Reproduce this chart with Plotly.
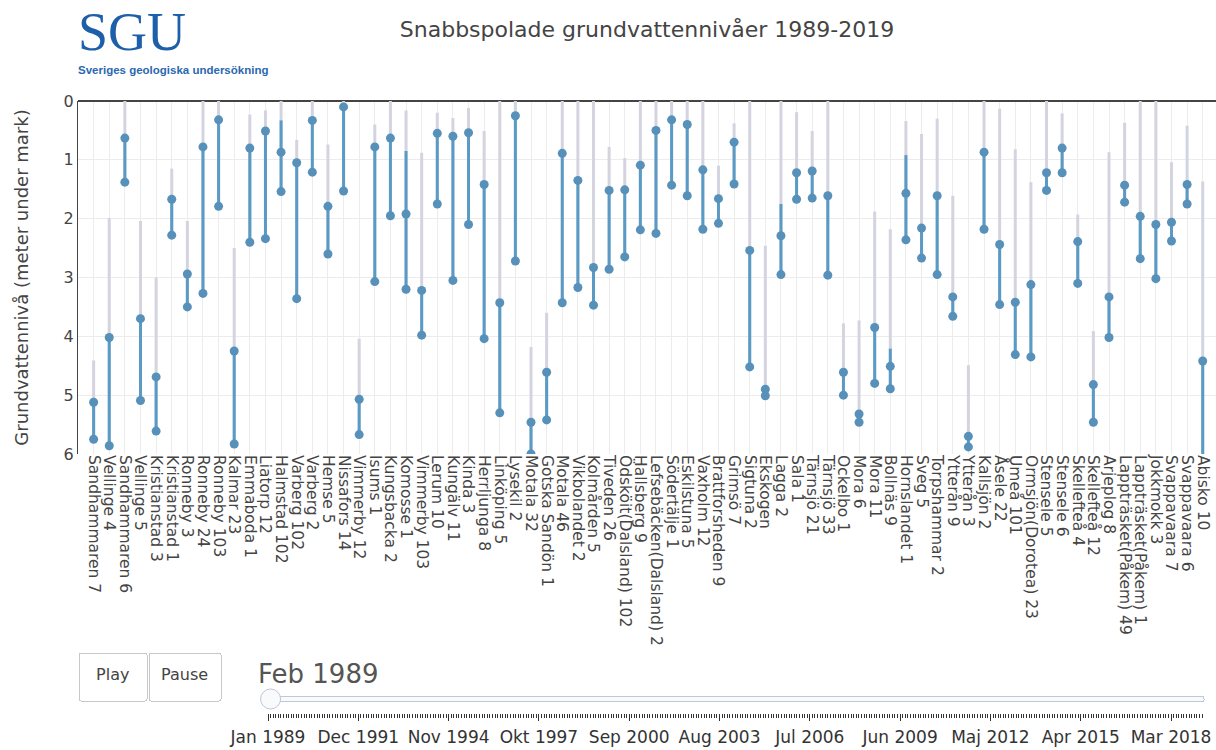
import plotly.graph_objects as go

# Observation wells, west/south to north
stations = [
    "Sandhammaren 7", "Vellinge 4", "Sandhammaren 6", "Vellinge 5", "Kristianstad 3",
    "Kristianstad 1", "Ronneby 3", "Ronneby 24", "Ronneby 103", "Kalmar 23",
    "Emmaboda 1", "Liatorp 12", "Halmstad 102", "Varberg 102", "Varberg 2",
    "Hemse 5", "Nissafors 14", "Vimmerby 12", "Isums 1", "Kungsbacka 2",
    "Komosse 1", "Vimmerby 103", "Lerum 10", "Kungälv 11", "Kinda 3",
    "Herrljunga 8", "Linköping 5", "Lysekil 2", "Motala 32", "Gotska Sandön 1",
    "Motala 46", "Vikbolandet 2", "Kolmården 5", "Tiveden 26", "Ödsköit(Dalsland) 102",
    "Hallsberg 9", "Lefsebäcken(Dalsland) 2", "Södertälje 1", "Eskilstuna 5", "Vaxholm 12",
    "Brattforsheden 9", "Grimsö 7", "Sigtuna 2", "Ekskogen", "Lagga 2",
    "Sala 1", "Tärnsjö 21", "Tärnsjö 33", "Ockelbo 1", "Mora 6",
    "Mora 11", "Bollnäs 9", "Hornslandet 1", "Sveg 5", "Torpshammar 2",
    "Ytterån 9", "Ytterån 3", "Kallsjön 2", "Åsele 22", "Umeå 101",
    "Ormsjön(Dorotea) 23", "Stensele 5", "Stensele 6", "Skellefteå 4", "Skellefteå 12",
    "Arjeplog 8", "Lappträsket(Påkem) 49", "Lappträsket(Påkem) 1", "Jokkmokk 3", "Svappavaara 7",
    "Svappavaara 6", "Abisko 10",
]

# Highest level ever recorded (m below ground)
hist_min = [
    4.41, 1.99, 0.00, 2.04, 3.00, 1.15, 2.04, 0.00, 0.00, 2.50,
    0.23, 0.16, 0.00, 0.66, 0.00, 0.74, 0.00, 4.04, 0.40, 0.00,
    0.16, 0.88, 0.20, 0.29, 0.12, 0.51, 0.00, 0.00, 4.18, 3.60,
    0.00, 0.00, 0.00, 0.78, 0.97, 0.00, 0.00, 0.00, 0.00, 0.00,
    1.10, 0.38, 0.00, 2.46, 0.00, 0.19, 0.51, 0.00, 3.78, 3.73,
    1.88, 2.18, 0.34, 0.56, 0.30, 1.61, 4.49, 0.00, 0.13, 0.82,
    1.38, 0.00, 0.21, 1.93, 3.91, 0.87, 0.37, 0.00, 0.00, 1.04,
    0.42, 1.37,
]

# Current-period levels, upper and lower marker (m below ground)
level_upper = [
    5.12, 4.02, 0.63, 3.70, 4.69, 1.67, 2.94, 0.78, 0.32, 4.25,
    0.80, 0.51, 0.87, 1.05, 0.33, 1.79, 0.10, 5.07, 0.78, 0.63,
    1.92, 3.22, 0.55, 0.60, 0.54, 1.42, 3.43, 0.25, 5.46, 4.61,
    0.89, 1.35, 2.83, 1.52, 1.51, 1.09, 0.50, 0.32, 0.40, 1.17,
    1.66, 0.70, 2.54, 4.90, 2.29, 1.22, 1.19, 1.61, 4.61, 5.32,
    3.85, 4.51, 1.57, 2.16, 1.61, 3.33, 5.70, 0.87, 2.44, 3.42,
    3.12, 1.22, 0.80, 2.39, 4.82, 3.33, 1.43, 1.96, 2.10, 2.06,
    1.42, 4.42,
]
level_lower = [
    5.75, 5.86, 1.38, 5.09, 5.61, 2.28, 3.50, 3.27, 1.79, 5.83,
    2.40, 2.34, 1.54, 3.36, 1.21, 2.60, 1.53, 5.67, 3.07, 1.95,
    3.20, 3.98, 1.75, 3.05, 2.10, 4.04, 5.30, 2.72, 6.00, 5.42,
    3.43, 3.17, 3.47, 2.86, 2.65, 2.19, 2.25, 1.43, 1.61, 2.18,
    2.08, 1.41, 4.52, 5.01, 2.95, 1.67, 1.65, 2.96, 5.00, 5.46,
    4.80, 4.89, 2.36, 2.67, 2.95, 3.66, 5.88, 2.18, 3.46, 4.31,
    4.35, 1.52, 1.22, 3.10, 5.46, 4.02, 1.72, 2.68, 3.02, 2.38,
    1.75, 6.40,
]

# Span of the period line (m below ground)
line_upper = [
    5.12, 4.02, 0.63, 3.70, 4.69, 1.67, 2.94, 0.78, 0.32, 4.25,
    0.80, 0.51, 0.33, 1.05, 0.33, 1.79, 0.10, 5.07, 0.78, 0.63,
    0.85, 3.22, 0.55, 0.60, 0.54, 1.42, 3.43, 0.25, 5.46, 4.61,
    0.89, 1.35, 2.83, 1.52, 1.51, 1.09, 0.50, 0.32, 0.40, 1.17,
    1.66, 0.70, 2.54, 4.90, 1.75, 1.22, 1.19, 1.61, 4.61, 5.32,
    3.85, 4.21, 0.92, 2.16, 1.61, 3.33, 5.70, 0.87, 2.44, 3.42,
    3.12, 1.22, 0.80, 2.39, 4.82, 3.33, 1.43, 1.96, 2.10, 2.06,
    1.42, 4.42,
]
line_lower = level_lower

MONTHS_SV = ["Jan", "Feb", "Mar", "Apr", "Maj", "Jun",
             "Jul", "Aug", "Sep", "Okt", "Nov", "Dec"]
first_year, last_year, last_month = 1989, 2019, 3
slider_labels = [
    f"{MONTHS_SV[m]} {y}"
    for y in range(first_year, last_year + 1)
    for m in range(12)
    if y < last_year or m < last_month
]
active_step = 1

FONT = "DejaVu Sans, Verdana, sans-serif"
BLUE_LINE = "#5a9bc6"
BLUE_MARK = "#5791ba"
GREY_LINE = "#d3d4df"
SGU_BLUE = "#1d5fa9"


def segments(lo, hi):
    xs, ys = [], []
    for s, a, b in zip(stations, lo, hi):
        xs += [s, s, None]
        ys += [a, b, None]
    return xs, ys


gx, gy = segments(hist_min, line_lower)
bx, by = segments(line_upper, line_lower)

fig = go.Figure()
fig.add_trace(go.Scatter(
    x=gx, y=gy, mode="lines", line=dict(color=GREY_LINE, width=3),
    hoverinfo="skip", showlegend=False,
))
fig.add_trace(go.Scatter(
    x=bx, y=by, mode="lines", line=dict(color=BLUE_LINE, width=3),
    hoverinfo="skip", showlegend=False,
))
fig.add_trace(go.Scatter(
    x=stations + stations, y=level_upper + level_lower, mode="markers",
    marker=dict(color=BLUE_MARK, size=9),
    showlegend=False,
))

px_w = 1216 - 78
px_h = 353


def paper_x(px):
    return (px - 78) / px_w


def paper_y(py):
    return (101 + px_h - py) / px_h


def button_label(text, pad=True):
    # three-line label: padding lines above and below make the button taller
    side = "\u00a0" if pad else ""
    return f'\u00a0<br><span style="font-size:16px">{side}{text}{side}</span><br>\u00a0'


steps = [
    dict(
        label=lab, method="animate",
        args=[[lab], dict(mode="immediate", frame=dict(duration=300, redraw=False),
                          transition=dict(duration=300))],
    )
    for lab in slider_labels
]

fig.update_layout(
    width=1216, height=750,
    margin=dict(l=78, r=0, t=101, b=296),
    paper_bgcolor="white", plot_bgcolor="white",
    font=dict(family=FONT, color="#444"),
    title=dict(
        text="Snabbspolade grundvattennivåer 1989-2019",
        x=0.5, xref="paper", xanchor="center",
        y=1 - 29 / 750, yanchor="middle",
        font=dict(family=FONT, size=22, color="#444"),
    ),
    xaxis=dict(
        type="category", categoryorder="array", categoryarray=stations,
        range=[-1, 71.85], tickmode="linear", tick0=0, dtick=1,
        tickangle=90, showgrid=True, gridcolor="#ececec",
        tickfont=dict(family=FONT, size=15.5, color="#444"),
        zeroline=False, fixedrange=True,
    ),
    yaxis=dict(
        range=[6, 0], dtick=1, showgrid=True, gridcolor="#ececec",
        zeroline=True, zerolinecolor="#444", zerolinewidth=1.5,
        showline=True, linecolor="#444", linewidth=1,
        tickfont=dict(family=FONT, size=16, color="#444"),
        title=dict(text="Grundvattennivå (meter under mark)", standoff=30,
                   font=dict(family=FONT, size=18, color="#444")),
    ),
    annotations=[
        dict(text="SGU", xref="paper", yref="paper", x=paper_x(76), y=paper_y(0),
             xanchor="left", yanchor="top", showarrow=False,
             font=dict(family="Liberation Serif, Times New Roman, serif", size=54,
                       color=SGU_BLUE)),
        dict(text="<b>Sveriges geologiska undersökning</b>", xref="paper", yref="paper",
             x=paper_x(76), y=paper_y(62), xanchor="left", yanchor="top",
             showarrow=False,
             font=dict(family="Liberation Sans, Arial, sans-serif", size=11.5,
                       color="#2a68b0")),
    ],
    updatemenus=[dict(
        type="buttons", direction="left", showactive=False,
        x=paper_x(78), y=paper_y(652), xanchor="left", yanchor="top",
        pad=dict(l=0, r=0, t=0, b=0),
        bgcolor="white", bordercolor="#c8c8c8",
        font=dict(family=FONT, size=11.5, color="#444"),
        buttons=[
            dict(label=button_label("Play"), method="animate",
                 args=[None, dict(frame=dict(duration=300, redraw=False),
                                  fromcurrent=True, transition=dict(duration=300))]),
            dict(label=button_label("Pause", pad=False), method="animate",
                 args=[[None], dict(frame=dict(duration=0, redraw=False),
                                    mode="immediate", transition=dict(duration=0))]),
        ],
    )],
    sliders=[dict(
        active=active_step, steps=steps,
        x=paper_x(258), len=954 / px_w, xanchor="left",
        y=paper_y(649), yanchor="top",
        pad=dict(l=0, r=0, t=0, b=0),
        currentvalue=dict(visible=True, prefix="", xanchor="left",
                          font=dict(family=FONT, size=26, color="#555")),
        font=dict(family=FONT, size=17, color="#333"),
    )],
)

fig.write_html("out.html")
